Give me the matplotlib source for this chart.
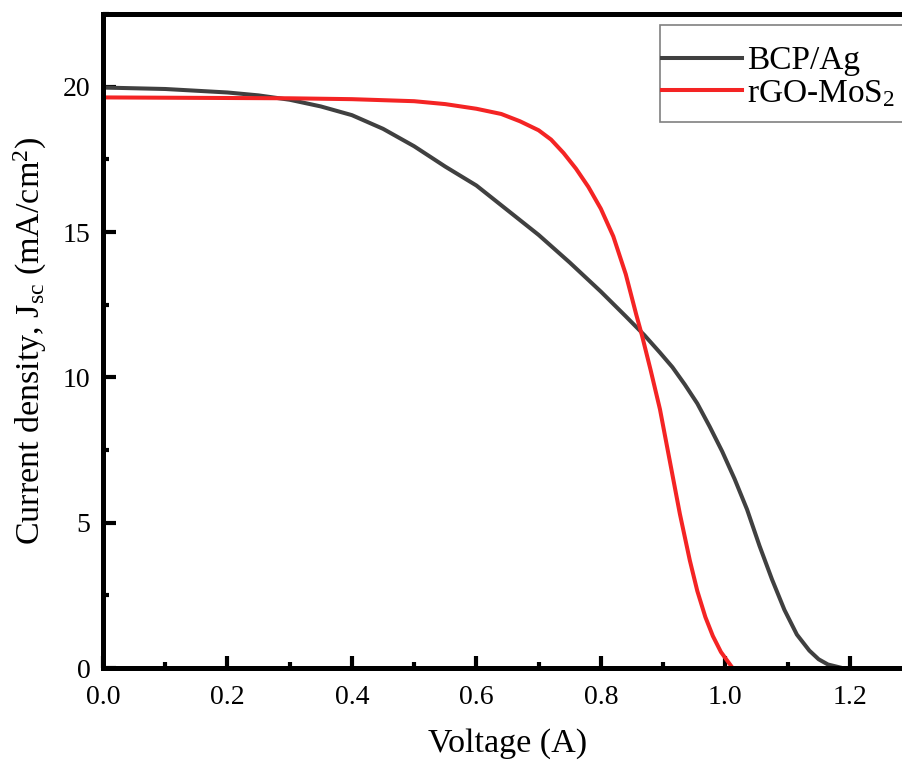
import matplotlib
matplotlib.use("Agg")
import matplotlib.pyplot as plt
from matplotlib.patches import Rectangle
from matplotlib.ticker import MultipleLocator

plt.rcParams['font.family'] = ['Liberation Serif', 'DejaVu Serif']
plt.rcParams['mathtext.fontset'] = 'custom'
plt.rcParams['mathtext.rm'] = 'Liberation Serif'
plt.rcParams['mathtext.it'] = 'Liberation Serif:italic'

# J-V curves
v_bcp = [0.0, 0.1, 0.2, 0.25, 0.3, 0.35, 0.4, 0.45, 0.5, 0.55, 0.6, 0.65, 0.7, 0.75,
         0.8, 0.84, 0.87, 0.895, 0.915, 0.935, 0.955, 0.975, 0.995, 1.015, 1.035,
         1.055, 1.075, 1.095, 1.115, 1.135, 1.15, 1.165, 1.184]
j_bcp = [19.97, 19.92, 19.8, 19.7, 19.55, 19.32, 19.02, 18.55, 17.95, 17.25, 16.6,
         15.75, 14.9, 13.95, 12.95, 12.1, 11.45, 10.85, 10.35, 9.75, 9.1, 8.3, 7.45,
         6.5, 5.45, 4.2, 3.05, 2.0, 1.15, 0.6, 0.3, 0.12, 0.02]

v_rgo = [0.0, 0.1, 0.2, 0.3, 0.4, 0.5, 0.55, 0.6, 0.64, 0.67, 0.7, 0.72, 0.74, 0.76,
         0.78, 0.8, 0.82, 0.84, 0.857, 0.866, 0.88, 0.895, 0.911, 0.927, 0.943, 0.955,
         0.968, 0.98, 0.993, 1.01]
j_rgo = [19.63, 19.62, 19.61, 19.6, 19.57, 19.5, 19.4, 19.24, 19.06, 18.81, 18.5,
         18.18, 17.72, 17.18, 16.55, 15.8, 14.85, 13.55, 12.15, 11.45, 10.25, 8.9,
         7.1, 5.3, 3.7, 2.65, 1.75, 1.1, 0.55, 0.05]

fig = plt.figure(figsize=(9.03, 7.61), dpi=100)
ax = fig.add_axes([103/903, 1 - 668/761, (912 - 103)/903, (668 - 14)/761])

l1, = ax.plot(v_bcp, j_bcp, color='#404040', lw=2.9, label='BCP/Ag')
l2, = ax.plot(v_rgo, j_rgo, color='#f42424', lw=2.9, label=r'rGO-MoS$_2$')

ax.set_xlim(0, 1.3)
ax.set_ylim(0, 22.5)
ax.xaxis.set_major_locator(MultipleLocator(0.2))
ax.xaxis.set_minor_locator(MultipleLocator(0.1))
ax.yaxis.set_major_locator(MultipleLocator(5))
ax.yaxis.set_minor_locator(MultipleLocator(2.5))
ax.xaxis.set_major_formatter(lambda x, p: f'{x:.1f}')
ax.yaxis.set_major_formatter(lambda y, p: f'{y:.0f}')

for s in ax.spines.values():
    s.set_linewidth(3.6)
ax.tick_params(which='both', direction='in', width=3.0, labelsize=20, top=False, right=False)
ax.tick_params(which='major', length=9)
ax.tick_params(which='minor', length=4)
ax.tick_params(axis='x', which='major', pad=12)
ax.tick_params(axis='y', which='major', pad=9)

ax.set_xlabel('Voltage (A)', fontsize=24.5, labelpad=13)
ax.set_ylabel(r'Current density, J$_{\rm sc}$ (mA/cm$^2$)', fontsize=24.5, labelpad=10)

# legend box runs off the right edge, like the cropped original
fig.patches.append(Rectangle((660/903, 1 - 122/761), 0.3, 97/761, transform=fig.transFigure,
                             facecolor='white', edgecolor='#808080', lw=1.2, zorder=3))
leg = fig.legend(handles=[l1, l2], loc='upper left', bbox_to_anchor=(662/903, 1 - 46/761),
                 bbox_transform=fig.transFigure, borderaxespad=0, fontsize=24,
                 frameon=False, labelspacing=0.05, handlelength=2.4,
                 handletextpad=0.15, borderpad=0)
leg.set_zorder(4)

fig.savefig('out.png', dpi=100)
